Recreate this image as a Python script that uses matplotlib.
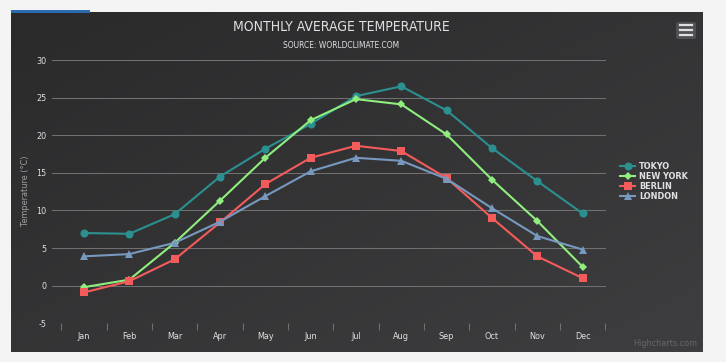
import numpy as np
import matplotlib
matplotlib.use("Agg")
import matplotlib.pyplot as plt
from matplotlib.patches import Rectangle, FancyBboxPatch

months = ["Jan", "Feb", "Mar", "Apr", "May", "Jun", "Jul", "Aug", "Sep", "Oct", "Nov", "Dec"]
tokyo = [7.0, 6.9, 9.5, 14.5, 18.2, 21.5, 25.2, 26.5, 23.3, 18.3, 13.9, 9.6]
new_york = [-0.2, 0.8, 5.7, 11.3, 17.0, 22.0, 24.8, 24.1, 20.1, 14.1, 8.6, 2.5]
berlin = [-0.9, 0.6, 3.5, 8.4, 13.5, 17.0, 18.6, 17.9, 14.3, 9.0, 3.9, 1.0]
london = [3.9, 4.2, 5.7, 8.5, 11.9, 15.2, 17.0, 16.6, 14.2, 10.3, 6.6, 4.8]
series_names = ["TOKYO", "NEW YORK", "BERLIN", "LONDON"]
y_ticks = [-5, 0, 5, 10, 15, 20, 25, 30]

FONT = "DejaVu Sans"
plt.rcParams["font.family"] = [FONT]
STRETCH = "condensed"

W, H = 726, 362
fig = plt.figure(figsize=(W / 100, H / 100), dpi=100)
fig.patch.set_facecolor("#f4f4f4")

def fx(px):
    return px / W

def fy(py):
    return 1 - py / H

# dark gradient panel
x0, x1, y0, y1 = 11, 703, 12, 352
bg = fig.add_axes([fx(x0), fy(y1), fx(x1 - x0), (y1 - y0) / H], zorder=0)
gx, gy = np.meshgrid(np.linspace(0, 1, 200), np.linspace(0, 1, 100))
t = (gx + gy) / 2
c0 = np.array([0x2a, 0x2a, 0x2b]) / 255
c1 = np.array([0x3e, 0x3e, 0x40]) / 255
img = c0[None, None, :] * (1 - t[..., None]) + c1[None, None, :] * t[..., None]
bg.imshow(img, aspect="auto", extent=[0, 1, 0, 1], origin="upper")
bg.set_axis_off()

# blue strip top-left
fig.patches.append(Rectangle((fx(11), fy(13)), fx(79), 3 / H, transform=fig.transFigure,
                             facecolor="#2b6cb0", edgecolor="none", zorder=1))

# main axes
left_px, right_px, top_px, bot_px = 52, 606, 60, 323.3
ax = fig.add_axes([fx(left_px), fy(bot_px), fx(right_px - left_px), (bot_px - top_px) / H], zorder=2)
ax.set_facecolor("none")
x = np.arange(len(months))
jan_px, step = 84, 45.33
ax.set_xlim((left_px - jan_px) / step, (right_px - jan_px) / step)
ax.set_ylim(-5, 30)

grid_c = "#707073"
for yv in y_ticks:
    ax.axhline(yv, color=grid_c, lw=0.75, zorder=1)

styles = [
    (tokyo, "#2b908f", "o", 5.8),
    (new_york, "#90ee7e", "D", 4.0),
    (berlin, "#f45b5b", "s", 5.6),
    (london, "#7798BF", "^", 5.8),
]
for (vals, col, mk, ms), name in zip(styles, series_names):
    ax.plot(x, vals, color=col, lw=1.5, marker=mk, markersize=ms, markeredgewidth=0,
            label=name, zorder=3)

for s in ax.spines.values():
    s.set_visible(False)

ax.set_xticks(np.arange(-0.5, 12, 1.0))
ax.set_xticklabels([])
ax.tick_params(axis="x", which="major", length=5, color=grid_c, width=0.75, direction="out")
ax.set_xticks(x, minor=True)
ax.set_xticklabels(months, minor=True, color="#E0E0E3", fontsize=6.5, fontstretch=STRETCH)
ax.tick_params(axis="x", which="minor", length=0, pad=6)

ax.set_yticks(y_ticks)
ax.set_yticklabels([str(v) for v in y_ticks], color="#E0E0E3", fontsize=6.5, fontstretch=STRETCH)
ax.tick_params(axis="y", length=0, pad=4)

fig.text(fx(25), fy(191), "Temperature (°C)", rotation=90, ha="center", va="center",
         color="#A0A0A3", fontsize=6.5, fontstretch=STRETCH)

# titles
fig.text(fx(341), fy(27), "MONTHLY AVERAGE TEMPERATURE", ha="center", va="center",
         color="#E0E0E3", fontsize=10, fontstretch=STRETCH)
fig.text(fx(341), fy(45), "SOURCE: WORLDCLIMATE.COM", ha="center", va="center",
         color="#E0E0E3", fontsize=6, fontstretch=STRETCH)

# legend
leg = fig.legend(loc="center left", bbox_to_anchor=(fx(612), fy(181.5)), frameon=False,
                 handlelength=1.7, handletextpad=0.4, labelspacing=0.12,
                 prop={"size": 6.5, "weight": "bold", "stretch": STRETCH})
for txt in leg.get_texts():
    txt.set_color("#E0E0E3")

# credit
fig.text(fx(697), fy(344), "Highcharts.com", ha="right", va="center", color="#666666",
         fontsize=6.5, fontstretch=STRETCH, zorder=3)

# menu button
btn = FancyBboxPatch((fx(676), fy(39)), fx(20), 17 / H, boxstyle="round,pad=0,rounding_size=0.004",
                     transform=fig.transFigure, facecolor="#505053", edgecolor="none", zorder=3)
fig.patches.append(btn)
for yy in (25, 30, 35):
    fig.lines.append(plt.Line2D([fx(680), fx(692)], [fy(yy), fy(yy)], transform=fig.transFigure,
                                color="#E0E0E3", lw=1.6, zorder=4))

fig.savefig("out.png", dpi=100)
